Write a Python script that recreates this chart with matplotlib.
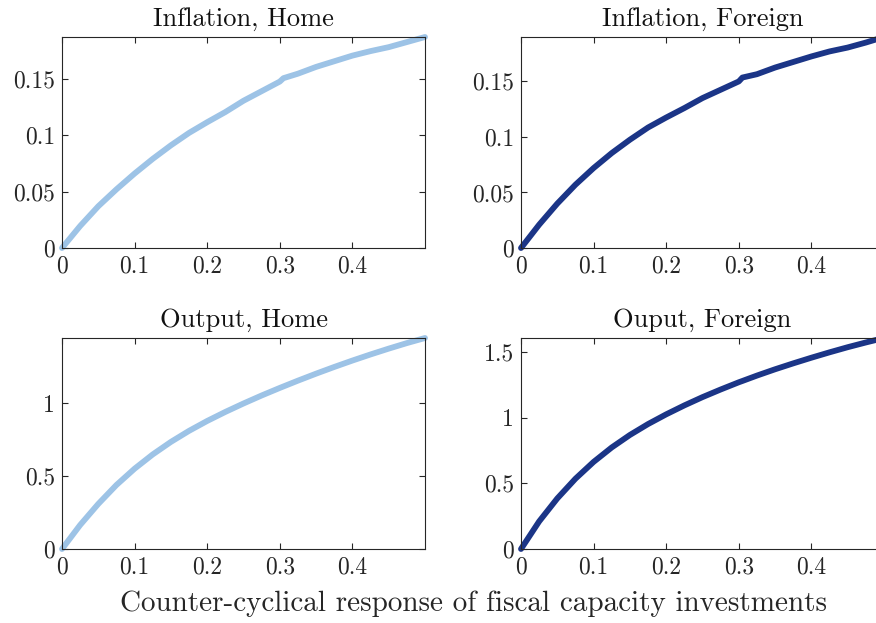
import numpy as np
import matplotlib.pyplot as plt

# Data
x = [0, 0.025, 0.05, 0.075, 0.1, 0.125, 0.15, 0.175, 0.2, 0.225, 0.25,
     0.275, 0.3, 0.305, 0.325, 0.35, 0.375, 0.4, 0.425, 0.45, 0.475, 0.5]

infl_home = [0, 0.0195, 0.037, 0.052, 0.066, 0.079, 0.091, 0.102, 0.1115, 0.1205, 0.1305,
             0.139, 0.1475, 0.1505, 0.1545, 0.1605, 0.1655, 0.1705, 0.1745, 0.178, 0.1825, 0.187]
infl_foreign = [0, 0.021, 0.040, 0.057, 0.072, 0.0855, 0.0975, 0.1085, 0.1175, 0.126, 0.135,
                0.1425, 0.150, 0.1535, 0.1565, 0.1625, 0.1675, 0.1725, 0.177, 0.1805, 0.185, 0.19]
out_home = [0, 0.165, 0.31, 0.44, 0.552, 0.65, 0.736, 0.812, 0.88, 0.942, 1.0,
            1.055, 1.107, 1.117, 1.157, 1.205, 1.251, 1.295, 1.337, 1.377, 1.415, 1.45]
out_foreign = [0, 0.21, 0.385, 0.535, 0.663, 0.773, 0.868, 0.951, 1.025, 1.093, 1.156,
               1.214, 1.269, 1.279, 1.32, 1.368, 1.413, 1.456, 1.497, 1.536, 1.572, 1.606]

titles = ['Inflation, Home', 'Inflation, Foreign', 'Output, Home', 'Ouput, Foreign']
series = [infl_home, infl_foreign, out_home, out_foreign]
colors = ['#9dc3e6', '#1b3587', '#9dc3e6', '#1b3587']
yticks = [[0, 0.05, 0.1, 0.15], [0, 0.05, 0.1, 0.15], [0, 0.5, 1], [0, 0.5, 1, 1.5]]
ytick_labels = [['0', '0.05', '0.1', '0.15'], ['0', '0.05', '0.1', '0.15'],
                ['0', '0.5', '1'], ['0', '0.5', '1', '1.5']]
xticks = [0, 0.1, 0.2, 0.3, 0.4]
xtick_labels = ['0', '0.1', '0.2', '0.3', '0.4']

plt.rcParams['font.family'] = 'cmr10'
plt.rcParams['axes.formatter.use_mathtext'] = True
plt.rcParams['font.size'] = 16

fig = plt.figure(figsize=(8.76, 6.23), dpi=100)
W, H = 876, 623
boxes = [(62, 37), (521, 37), (62, 338), (521, 338)]
aw, ah = 363, 211

for i in range(4):
    x0, y0 = boxes[i]
    ax = fig.add_axes([x0 / W, 1 - (y0 + ah) / H, aw / W, ah / H])
    ax.plot(x, series[i], color=colors[i], lw=4.2, solid_capstyle='round', clip_on=False)
    ax.set_xlim(0, 0.5)
    ax.set_ylim(0, max(series[i]))
    ax.set_xticks(xticks)
    ax.set_xticklabels(xtick_labels)
    ax.set_yticks(yticks[i])
    ax.set_yticklabels(ytick_labels[i])
    ax.tick_params(direction='in', top=True, right=True, length=4, width=0.8,
                   colors='#262626', labelcolor='#262626', labelsize=17, pad=5)
    for s in ax.spines.values():
        s.set_color('#262626')
        s.set_linewidth(0.8)
    ax.set_title(titles[i], fontsize=19, pad=8, color='#111111')

fig.text(0.541, 1 - 604 / H, 'Counter-cyclical response of fiscal capacity investments',
         ha='center', va='center', fontsize=21, color='#262626')

fig.savefig('out.png', dpi=100)
